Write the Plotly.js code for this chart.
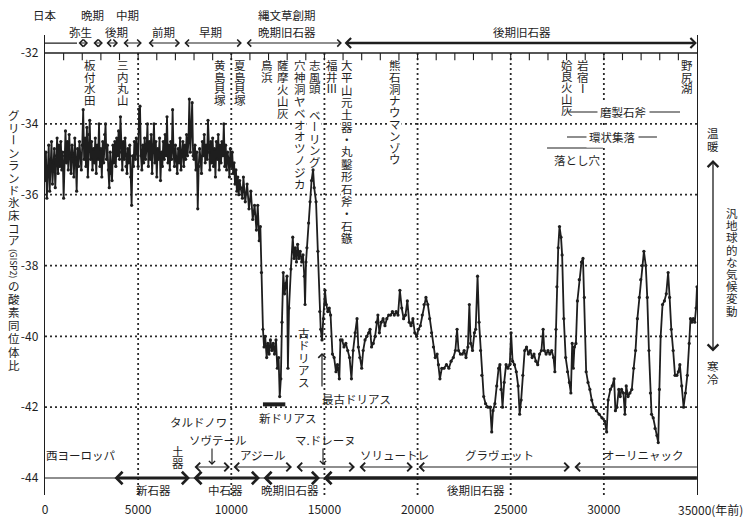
<!DOCTYPE html>
<html><head><meta charset="utf-8">
<script src="https://cdn.plot.ly/plotly-3.0.1.min.js"></script>
<style>html,body{margin:0;padding:0;background:#fff}</style>
</head><body><div id="chart" style="width:746px;height:517px"></div>
<script>
// ---------------- DATA ----------------
const holoYears = [0,50,100,150,200,250,300,350,400,450,500,550,600,650,700,750,800,850,900,950,
1000,1050,1100,1150,1200,1250,1300,1350,1400,1450,1500,1550,1600,1650,1700,1750,1800,1850,1900,1950,
2000,2050,2100,2150,2200,2250,2300,2350,2400,2450,2500,2550,2600,2650,2700,2750,2800,2850,2900,2950,
3000,3050,3100,3150,3200,3250,3300,3350,3400,3450,3500,3550,3600,3650,3700,3750,3800,3850,3900,3950,
4000,4050,4100,4150,4200,4250,4300,4350,4400,4450,4500,4550,4600,4650,4700,4750,4800,4850,4900,4950,
5000,5050,5100,5150,5200,5250,5300,5350,5400,5450,5500,5550,5600,5650,5700,5750,5800,5850,5900,5950,
6000,6050,6100,6150,6200,6250,6300,6350,6400,6450,6500,6550,6600,6650,6700,6750,6800,6850,6900,6950,
7000,7050,7100,7150,7200,7250,7300,7350,7400,7450,7500,7550,7600,7650,7700,7750,7800,7850,7900,7950,
8000,8050,8100,8150,8200,8250,8300,8350,8400,8450,8500,8550,8600,8650,8700,8750,8800,8850,8900,8950,
9000,9050,9100,9150,9200,9250,9300,9350,9400,9450,9500,9550,9600,9650,9700,9750,9800,9850,9900,9950,
10000,10050,10100,10150,10200,10250,10300,10350,10400,10450];
const holoD18O = [
-35.6,-34.8,-36.1,-35.2,-34.6,-35.9,-35.0,-34.5,-35.7,-35.1,
-34.7,-35.8,-34.9,-34.4,-35.4,-34.6,-35.2,-34.5,-35.3,-34.8,
-36.1,-34.9,-34.2,-35.1,-34.5,-35.3,-34.3,-34.9,-35.4,-34.6,
-34.9,-35.5,-34.4,-35.0,-35.9,-34.7,-35.2,-34.5,-34.9,-35.3,
-34.6,-33.6,-35.0,-34.4,-35.2,-34.1,-35.5,-34.3,-33.9,-35.0,
-34.5,-35.3,-34.7,-35.1,-34.4,-35.4,-34.6,-35.0,-34.0,-35.2,
-34.7,-35.5,-34.5,-35.1,-34.3,-34.0,-35.0,-34.6,-35.3,-35.8,
-34.8,-35.4,-35.6,-34.6,-35.1,-34.5,-35.2,-34.4,-34.9,-34.2,
-35.0,-33.8,-34.8,-35.3,-34.5,-35.0,-34.4,-35.2,-35.4,-34.7,
-35.1,-34.6,-35.5,-36.3,-34.9,-35.2,-34.5,-35.0,-34.4,-34.8,
-35.2,-33.6,-33.5,-34.9,-35.3,-34.6,-35.1,-34.4,-35.0,-34.7,
-34.0,-35.2,-34.5,-35.0,-34.3,-35.4,-34.6,-34.0,-35.1,-34.5,
-35.5,-34.7,-35.0,-34.4,-35.6,-34.8,-35.2,-34.5,-35.0,-34.3,
-34.9,-33.8,-35.1,-34.6,-35.3,-34.5,-35.0,-33.6,-34.8,-35.2,
-34.6,-35.0,-35.4,-34.7,-35.1,-34.4,-35.3,-34.8,-34.5,-35.2,
-34.6,-35.0,-34.3,-34.9,-34.5,-33.3,-34.8,-34.2,-33.4,-34.9,
-35.0,-34.6,-35.3,-34.8,-36.4,-35.2,-34.7,-35.0,-35.4,-34.5,
-34.9,-34.3,-35.1,-34.6,-35.0,-33.9,-34.8,-35.3,-34.5,-35.1,
-34.4,-35.2,-34.7,-35.5,-34.5,-35.0,-34.3,-35.3,-34.6,-35.1,
-34.5,-34.9,-34.0,-35.2,-34.6,-35.3,-34.8,-35.0,-35.5,-34.7,
-35.2,-34.8,-35.4,-35.1,-35.7,-35.3,-35.9,-35.5,-36.0,-35.6];

const glacialYears = [10500,10600,10650,10750,10850,10950,11050,11150,11250,11350,11420,11500,11560,11620,11700,11760,11820,11900,11960,12030,
12100,12180,12250,12320,12400,12470,12540,12600,12660,12720,12790,12860,12920,12990,13040,13100,13200,13300,13370,13430,
13500,13560,13630,13700,13780,13850,13920,13960,14010,14060,14150,14230,14310,14390,14450,14550,14650,14750,14800,14870,
14950,15030,15100,15180,15260,15330,15430,15520,15620,15700,15800,15860,15950,16050,16150,16250,16350,16450,16540,16650,
16750,16820,16900,17000,17080,17180,17280,17380,17450,17530,17620,17720,17800,17870,17950,18050,18150,18250,18350,18450,
18550,18650,18750,18850,18950,19050,19150,19250,19350,19450,19550,19650,19750,19850,19950,20050,20150,20250,20350,20450,
20550,20650,20750,20850,20950,21050,21120,21200,21300,21420,21550,21680,21800,21920,22030,22120,22200,22300,22400,22500,
22600,22700,22780,22850,22950,23050,23120,23220,23300,23380,23450,23550,23650,23780,23900,23980,24050,24150,24250,24350,
24420,24480,24560,24650,24750,24850,24950,25020,25100,25200,25300,25400,25480,25560,25650,25750,25850,25950,26050,26150,
26250,26350,26450,26550,26650,26740,26800,26900,27000,27100,27200,27300,27370,27430,27480,27550,27620,27700,27760,27850,
27950,28050,28150,28230,28300,28360,28420,28500,28580,28680,28800,28880,28950,29050,29150,29250,29350,29450,29600,29750,
29900,30050,30150,30230,30350,30450,30550,30620,30700,30800,30880,30950,31050,31130,31200,31300,31400,31500,31600,31700,
31800,31900,31980,32060,32150,32250,32330,32420,32500,32560,32650,32750,32850,32920,32980,33050,33150,33250,33350,33450,
33530,33620,33720,33820,33920,34000,34080,34180,34280,34380,34480,34580,34650,34720,34800,34880,34950,35000];
const glacialD18O = [-35.8,-36.1,-35.5,-36.2,-35.7,-36.4,-35.9,-36.7,-36.3,-37.0,-36.3,-37.3,-36.9,-38.2,-39.8,-40.3,-40.0,-40.6,-40.2,-40.5,
-40.1,-40.4,-40.2,-40.5,-40.1,-40.9,-40.6,-41.7,-41.2,-39.6,-38.2,-38.8,-38.5,-38.3,-40.9,-39.2,-38.1,-37.2,-37.8,-37.5,
-37.9,-37.4,-37.8,-37.6,-37.9,-37.7,-38.3,-39.1,-37.9,-37.5,-36.8,-36.2,-35.6,-35.3,-35.8,-36.2,-37.6,-39.3,-39.8,-40.1,
-39.5,-38.7,-39.1,-39.3,-39.2,-39.4,-40.5,-40.6,-41.0,-40.8,-41.2,-40.1,-40.1,-40.3,-40.2,-40.4,-40.6,-41.2,-40.4,-39.9,
-39.5,-40.3,-40.6,-40.9,-40.4,-40.1,-40.0,-39.9,-39.8,-40.3,-40.2,-40.0,-39.6,-39.4,-39.9,-39.6,-39.5,-39.7,-39.5,-39.4,
-39.4,-39.3,-39.4,-39.3,-39.4,-38.7,-39.2,-39.5,-39.4,-39.0,-39.6,-39.7,-39.5,-39.9,-40.0,-39.8,-39.7,-39.4,-39.1,-38.9,
-39.1,-39.5,-39.9,-40.3,-40.6,-40.5,-40.8,-41.2,-40.9,-40.9,-40.8,-40.9,-40.7,-40.6,-40.4,-39.8,-40.4,-40.5,-40.5,-40.4,
-40.6,-40.3,-39.1,-40.2,-40.4,-39.9,-39.8,-38.3,-39.6,-40.4,-41.1,-41.7,-41.9,-42.0,-42.0,-42.7,-42.1,-41.9,-41.4,-40.9,
-40.8,-41.5,-42.0,-41.3,-40.8,-40.9,-40.8,-39.9,-40.7,-40.8,-41.0,-41.4,-42.2,-41.8,-41.1,-40.4,-40.3,-40.5,-40.4,-40.6,
-40.5,-40.7,-40.8,-40.5,-40.4,-39.8,-40.4,-40.5,-40.4,-40.5,-40.4,-40.6,-41.0,-39.8,-38.6,-37.5,-36.9,-37.2,-37.7,-39.5,
-40.6,-41.0,-41.3,-41.6,-40.2,-40.9,-40.3,-40.2,-39.0,-38.4,-37.9,-37.8,-38.9,-41.0,-41.3,-41.5,-41.8,-42.0,-42.1,-42.2,
-42.3,-42.4,-42.7,-41.8,-41.5,-41.4,-41.2,-42.1,-42.0,-41.5,-41.7,-41.5,-41.6,-42.2,-41.4,-41.7,-41.6,-41.5,-40.9,-40.4,
-39.5,-38.9,-38.4,-38.0,-37.6,-38.0,-38.9,-40.4,-41.6,-42.2,-42.3,-42.6,-42.8,-43.0,-41.5,-40.0,-39.1,-39.0,-38.8,-38.2,
-38.9,-39.8,-40.4,-41.1,-41.1,-41.0,-40.8,-41.4,-42.0,-41.6,-41.1,-40.2,-39.5,-39.6,-39.5,-39.6,-39.2,-38.6];

const xTickVals = [0,5000,10000,15000,20000,25000,30000];
const xTickText = ['0','5000','10000','15000','20000','25000','30000'];
const xLastTick = '35000(年前)';
const yTickVals = [-44,-42,-40,-38,-36,-34,-32];
const yTickText = ['-44','-42','-40','-38','-36','-34','-32'];
const gridYears = [5000,10000,15000,20000,25000,30000];
const gridValues = [-34,-36,-38,-40,-42];

// Japanese periods (top arrows) [start, end] in years BP
const japanStart = [1720,2520,3220,4130,5480,7400,10740];
const japanEnd   = [2310,3110,3920,5200,7250,10570,15940];
const upperPalaeoJapan = [16000,35000];
// Western Europe cultures (row 1) and stages (row 2)
const westStart = [7945,10040,13420,16800,19970];
const westEnd   = [9930,13260,16640,19750,28180];
const aurignacian = [28340,35000];
const stageStart = [3650,7890,11650];
const stageEnd   = [7780,11540,14760];
const upperPalaeoEurope = [14870,35000];
const youngerDryas = [11700,12900];
// horizontal ranges upper right
const polishedAxe = [28070,34090];
const ringSettlement = [28020,32850];
const pitTrap = [26950,29950];

// ---------------- GEOMETRY HELPERS ----------------
const INK = '#1e1e1e';
const FONT = '"Noto Sans CJK JP","Noto Sans",sans-serif';
const L=45, R=697, T=35, B=495;
const XR=[0,35000], YR=[-44.48,-31.49];
const px2x = px => (px-L)/(R-L);
const py2y = py => (B-py)/(B-T);
const px2yr = px => XR[0] + (px-L)/(R-L)*(XR[1]-XR[0]);
const py2val = py => YR[1] - (py-T)/(B-T)*(YR[1]-YR[0]);

const anns = [];
const shapes = [];

function txt(s, px, py, opt){
  anns.push(Object.assign({text:s, xref:'paper', yref:'paper', x:px2x(px), y:py2y(py),
    showarrow:false, xanchor:'center', yanchor:'middle',
    font:{size:11.5, color:INK, family:FONT}}, opt||{}));
}
const ROT = new Set(['ー','(',')']);
function vtxt(s, px, py0, step, opt, whiteBg){
  const chars = Array.from(s);
  chars.forEach((c,i)=>{
    txt(c, px, py0+i*step, Object.assign({textangle: ROT.has(c)?90:0}, opt||{}));
  });
  if(whiteBg){
    shapes.push({type:'rect', xref:'x', yref:'y', layer:'below',
      x0:px2yr(px-6.5), x1:px2yr(px+6.5), y0:py2val(py0-6.5), y1:py2val(py0+(chars.length-1)*step+6.5),
      fillcolor:'#fff', line:{width:0}});
  }
}

// gridlines
gridYears.forEach(v=>shapes.push({type:'line',xref:'x',yref:'y',layer:'below',x0:v,x1:v,y0:-32,y1:YR[0],
  line:{color:'#2a2a2a',width:1.8,dash:'2px,3px'}}));
gridValues.forEach(v=>shapes.push({type:'line',xref:'x',yref:'y',layer:'below',x0:XR[0],x1:XR[1],y0:v,y1:v,
  line:{color:'#2a2a2a',width:1.8,dash:'2px,3px'}}));

// site labels (vertical)
vtxt('板付水田', 90, 65, 11.7, null, true);
vtxt('三内丸山', 123, 65, 11.7, null, true);
vtxt('黄島貝塚', 220, 65, 11.7, null, true);
vtxt('夏島貝塚', 240, 65, 11.7, null, true);
vtxt('鳥浜', 267, 65, 11.7, null, true);
vtxt('薩摩火山灰', 283, 65, 11.9, null, true);
vtxt('穴神洞ヤベオオツノジカ', 300, 65, 11.9, null, true);
vtxt('志風頭', 315, 65, 11.7, null, true);
vtxt('ベーリング', 315, 115, 11.8, null, true);
vtxt('福井Ⅲ', 332, 65, 11.7, null, true);
vtxt('大平山元土器・丸鑿形石斧・石鏃', 347, 65, 12.35, null, true);
vtxt('熊石洞ナウマンゾウ', 395, 65, 11.8, null, true);
vtxt('姶良火山灰', 567, 65, 11.2, null, true);
vtxt('岩宿Ⅰ', 583, 65, 11.5, null, true);
vtxt('野尻湖', 687, 65, 11.7, null, true);

// frame lines: -32 line with ticks, -44 line
shapes.push({type:'line',xref:'x',yref:'y',x0:XR[0],x1:XR[1],y0:-32,y1:-32,line:{color:INK,width:1.5}});
for(let k=1000;k<35000;k+=1000){
  shapes.push({type:'line',xref:'x',yref:'y',x0:k,x1:k,y0:-32,y1:-32.2,line:{color:INK,width:1.1}});
}
shapes.push({type:'line',xref:'x',yref:'y',x0:XR[0],x1:XR[1],y0:-44,y1:-44,line:{color:INK,width:1.2}});
shapes.push({type:'line',xref:'x',yref:'y',x0:XR[0],x1:japanStart[0],y0:-31.72,y1:-31.72,line:{color:INK,width:1.1}});

// range lines upper right
shapes.push({type:'line',xref:'x',yref:'y',x0:polishedAxe[0],x1:polishedAxe[1],y0:py2val(112),y1:py2val(112),line:{color:INK,width:1.2}});
shapes.push({type:'line',xref:'x',yref:'y',x0:ringSettlement[0],x1:ringSettlement[1],y0:py2val(137),y1:py2val(137),line:{color:INK,width:1.2}});
shapes.push({type:'line',xref:'x',yref:'y',x0:pitTrap[0],x1:pitTrap[1],y0:py2val(148),y1:py2val(148),line:{color:INK,width:1.2}});
txt('磨製石斧', 623, 112, {bgcolor:'#fff', borderpad:2});
txt('環状集落', 612, 137, {bgcolor:'#fff', borderpad:2});
txt('落とし穴', 577, 160);

// period arrows
function arrow(x0, x1, y, w, size, both){
  anns.push({text:'', xref:'x', yref:'y', axref:'x', ayref:'y', x:x1, y:y, ax:x0, ay:y,
    showarrow:true, arrowhead:4, startarrowhead:4, arrowside: both?'end+start':'start',
    arrowwidth:w, arrowsize:size, startarrowsize:size, arrowcolor:INK});
}
const yTop = py2val(43), yWest = py2val(467), yStage = -44.0;
japanStart.forEach((s,i)=>arrow(s, japanEnd[i], yTop, 1.1, 1.25, true));
arrow(upperPalaeoJapan[0], upperPalaeoJapan[1]-5, yTop, 2.4, 0.8, true);
westStart.forEach((s,i)=>arrow(s, westEnd[i], yWest, 1.2, 1.4, true));
arrow(aurignacian[0], aurignacian[1]-5, yWest, 1.2, 1.4, false);
stageStart.forEach((s,i)=>arrow(s, stageEnd[i], yStage, 2.8, 0.85, true));
arrow(upperPalaeoEurope[0], upperPalaeoEurope[1]-5, yStage, 3.4, 0.7, false);

// top period labels
txt('日本', 45, 15); txt('晩期', 92, 15); txt('中期', 128, 15); txt('縄文草創期', 287, 15);
txt('弥生', 80, 32); txt('後期', 116, 32); txt('前期', 163, 32); txt('早期', 211, 32);
txt('晩期旧石器', 287, 32); txt('後期旧石器', 522, 32);

// y-axis title (vertical writing)
vtxt('グリーンランド氷床コア', 14, 115, 12.5);
txt('(GISP2)', 14, 264, {textangle:90, font:{size:8.5,color:INK,family:FONT}});
vtxt('の酸素同位体比', 14, 286, 13.1);

// right side
vtxt('温暖', 713, 133, 13);
vtxt('寒冷', 713, 366, 13);
vtxt('汎地球的な気候変動', 732, 213, 12.2);
anns.push({text:'', xref:'paper', yref:'paper', x:px2x(713), y:py2y(160), ax:0, ay:193,
  showarrow:true, arrowhead:4, startarrowhead:4, arrowside:'end+start', arrowwidth:1.3, arrowsize:1.6, startarrowsize:1.6, arrowcolor:INK});

// dryas annotations
vtxt('古ドリアス', 304, 333, 12.3);
anns.push({text:'', xref:'paper', yref:'paper', x:px2x(322), y:py2y(353), ax:0, ay:35,
  showarrow:true, arrowhead:4, arrowwidth:1.2, arrowsize:1.2, arrowcolor:INK});
txt('最古ドリアス', 320, 399, {xanchor:'left'});
txt('新ドリアス', 288, 418);

// bottom cultures
txt('タルドノワ', 198, 422);
txt('ソヴテール', 218, 440);
txt('マ.ドレーヌ', 325, 440);
anns.push({text:'', xref:'paper', yref:'paper', x:px2x(212), y:py2y(465), ax:0, ay:-18,
  showarrow:true, arrowhead:4, arrowwidth:1.1, arrowsize:1.1, arrowcolor:INK});
anns.push({text:'', xref:'paper', yref:'paper', x:px2x(323), y:py2y(465), ax:0, ay:-18,
  showarrow:true, arrowhead:4, arrowwidth:1.1, arrowsize:1.1, arrowcolor:INK});
txt('西ヨーロッパ', 80, 455);
vtxt('土器', 178, 451, 12);
txt('アジール', 263, 455);
txt('ソリュートレ', 394, 455);
txt('グラヴェット', 499, 455);
txt('オーリニャック', 643, 455);
txt('新石器', 153, 490);
txt('中石器', 225, 490);
txt('晩期旧石器', 290, 490);
txt('後期旧石器', 476, 490);
// last x tick label written as text so that the unit can follow it
txt(xLastTick, 676, 509, {xanchor:'left', font:{size:12,color:INK,family:FONT}});

// ---------------- TRACES ----------------
const traces = [
  {type:'scatter', mode:'lines+markers', x:holoYears.concat(glacialYears), y:holoD18O.concat(glacialD18O),
   line:{color:INK, width:1.8}, marker:{size:3.2, color:INK}, hoverinfo:'skip'},
  {type:'scatter', mode:'lines', x:youngerDryas, y:[-41.92,-41.92], line:{color:INK, width:4}, hoverinfo:'skip'}
];

const layout = {
  width:746, height:517,
  margin:{l:L, r:746-R, t:T, b:517-B, autoexpand:false},
  paper_bgcolor:'#fff', plot_bgcolor:'#fff', showlegend:false,
  font:{family:FONT, color:INK},
  xaxis:{range:XR, showgrid:false, zeroline:false, showline:false, ticks:'',
    tickvals:xTickVals, ticktext:xTickText, tickfont:{size:12, color:INK, family:FONT}, ticklabelstandoff:6},
  yaxis:{range:YR, showgrid:false, zeroline:false, showline:true, mirror:true, linecolor:INK, linewidth:1.3,
    ticks:'', tickvals:yTickVals, ticktext:yTickText, tickfont:{size:12, color:INK, family:FONT}, ticklabelstandoff:3},
  shapes:shapes, annotations:anns
};
Plotly.newPlot('chart', traces, layout, {displayModeBar:false, staticPlot:true});
</script></body></html>
